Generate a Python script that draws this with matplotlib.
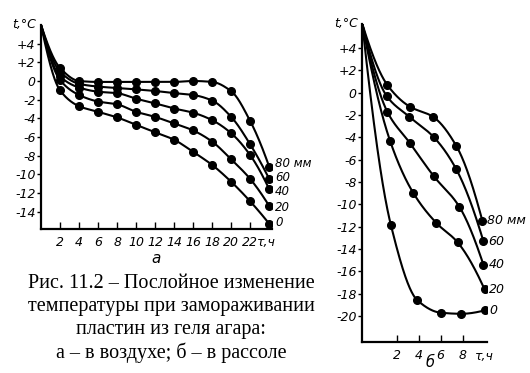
import numpy as np
import matplotlib
matplotlib.use('Agg')
import matplotlib.pyplot as plt

# --- data: left panel (a, in air) ---
air_time = [0, 2, 4, 6, 8, 10, 12, 14, 16, 18, 20, 22, 24]
air_80 = [6, 1.4, 0, -0.1, -0.1, -0.1, -0.1, -0.1, 0, -0.1, -1.1, -4.3, -9.2]
air_60 = [6, 1.0, -0.3, -0.6, -0.75, -0.9, -1.07, -1.3, -1.5, -2.1, -3.85, -6.8, -10.5]
air_40 = [6, 0.5, -0.7, -1.15, -1.3, -1.9, -2.4, -2.95, -3.4, -4.2, -5.6, -7.95, -11.6]
air_20 = [6, 0.1, -1.5, -2.2, -2.5, -3.3, -3.85, -4.55, -5.3, -6.5, -8.4, -10.5, -13.4]
air_0 = [6, -1.0, -2.7, -3.3, -3.9, -4.7, -5.5, -6.3, -7.6, -9.0, -10.8, -12.9, -15.3]
air_series = [air_80, air_60, air_40, air_20, air_0]
air_labels = ["80 мм", "60", "40", "20", "0"]
air_label_shift = [0.4, 0.15, -0.2, -0.2, 0.1]

# --- data: right panel (б, in brine) ---
brine_80_x = [-1.12, 1.15, 3.2, 5.3, 7.45, 9.8]
brine_80 = [6.15, 0.7, -1.25, -2.15, -4.8, -11.45]
brine_60_x = [-1.12, 1.1, 3.15, 5.4, 7.4, 9.9]
brine_60 = [6.15, -0.3, -2.15, -4.0, -6.8, -13.3]
brine_40_x = [-1.12, 1.15, 3.2, 5.4, 7.7, 9.9]
brine_40 = [6.15, -1.7, -4.5, -7.5, -10.2, -15.4]
brine_20_x = [-1.12, 1.4, 3.5, 5.6, 7.55, 10.0]
brine_20 = [6.15, -4.3, -8.95, -11.65, -13.4, -17.6]
brine_0_x = [-1.12, 1.48, 3.9, 6.0, 7.9, 10.0]
brine_0 = [6.15, -11.85, -18.6, -19.7, -19.8, -19.5]
brine_series = [(brine_80_x, brine_80), (brine_60_x, brine_60), (brine_40_x, brine_40),
                (brine_20_x, brine_20), (brine_0_x, brine_0)]
brine_labels = ["80 мм", "60", "40", "20", "0"]

caption = ["Рис. 11.2 – Послойное изменение",
           "температуры при замораживании",
           "пластин из геля агара:",
           "а – в воздухе; б – в рассоле"]

TICK_FONT = ['DejaVu Sans']
FS = 9


def pchip(x, y, n=60):
    # monotone cubic through the points, only for drawing smooth lines
    x = np.asarray(x, float)
    y = np.asarray(y, float)
    h = np.diff(x)
    delta = np.diff(y) / h
    d = np.zeros_like(y)
    for k in range(1, len(x) - 1):
        if delta[k - 1] * delta[k] > 0:
            w1 = 2 * h[k] + h[k - 1]
            w2 = h[k] + 2 * h[k - 1]
            d[k] = (w1 + w2) / (w1 / delta[k - 1] + w2 / delta[k])
    for i0, i1, j in [(0, 1, 0), (-1, -2, -1)]:
        hh0, hh1 = h[i0], h[i1]
        dd0, dd1 = delta[i0], delta[i1]
        de = ((2 * hh0 + hh1) * dd0 - hh0 * dd1) / (hh0 + hh1)
        if np.sign(de) != np.sign(dd0):
            de = 0.0
        elif np.sign(dd0) != np.sign(dd1) and abs(de) > 3 * abs(dd0):
            de = 3 * dd0
        d[j] = de
    xs, ys = [], []
    for k in range(len(x) - 1):
        t = np.linspace(0, 1, n)
        h00 = 2 * t**3 - 3 * t**2 + 1
        h10 = t**3 - 2 * t**2 + t
        h01 = -2 * t**3 + 3 * t**2
        h11 = t**3 - t**2
        xs.append(x[k] + t * h[k])
        ys.append(h00 * y[k] + h10 * h[k] * d[k] + h01 * y[k + 1] + h11 * h[k] * d[k + 1])
    return np.concatenate(xs), np.concatenate(ys)


def style_axes(ax):
    for side in ['top', 'right']:
        ax.spines[side].set_visible(False)
    for side in ['left', 'bottom']:
        ax.spines[side].set_linewidth(1.6)
    ax.tick_params(axis='x', direction='in', length=5, width=1, pad=5)
    ax.tick_params(axis='y', direction='out', length=3, width=1, pad=1)
    for lab in ax.get_xticklabels() + ax.get_yticklabels():
        lab.set_family(TICK_FONT)
        lab.set_style('italic')
        lab.set_fontsize(FS)


def signed(v):
    if v > 0:
        return f"+{v}"
    if v < 0:
        return f"-{abs(v)}"
    return "0"


fig = plt.figure(figsize=(5.3, 3.73), dpi=100)

# --- left panel ---
axL = fig.add_axes([0.0774, 0.385, 0.436, 0.548])
axL.set_xlim(0, 24.3)
axL.set_ylim(-15.9, 6)
for ys, lab, sh in zip(air_series, air_labels, air_label_shift):
    sx, sy = pchip(air_time, ys)
    axL.plot(sx, sy, color='black', lw=1.5)
    axL.plot(air_time[1:], ys[1:], 'o', color='black', ms=5.5)
    axL.text(air_time[-1] + 0.6, ys[-1] + sh, lab, ha='left', va='center',
             family=TICK_FONT, style='italic', fontsize=8.5)
xt = list(range(2, 24, 2))
axL.set_xticks(xt)
axL.set_xticklabels([str(v) for v in xt])
yt = list(range(4, -15, -2))
axL.set_yticks(yt)
axL.set_yticklabels([signed(v) for v in yt])
style_axes(axL)
axL.text(22.75, -0.03, "τ,ч", transform=axL.get_xaxis_transform(), ha='left', va='top',
         family=TICK_FONT, style='italic', fontsize=FS)
axL.text(-0.02, 1.0, "t,°C", transform=axL.transAxes, ha='right', va='center',
         family=TICK_FONT, style='italic', fontsize=FS)
axL.text(0.5, -0.14, "а", transform=axL.transAxes, ha='center', va='center',
         family=TICK_FONT, style='italic', fontsize=11)

# --- right panel ---
axR = fig.add_axes([0.6836, 0.0839, 0.2347, 0.8518])
axR.set_xlim(-1.12, 10.2)
axR.set_ylim(-22.3, 6.15)
for (bx, by), lab in zip(brine_series, brine_labels):
    sx, sy = pchip(bx, by)
    axR.plot(sx, sy, color='black', lw=1.5)
    axR.plot(bx[1:], by[1:], 'o', color='black', ms=5.5)
    axR.text(bx[-1] + 0.45, by[-1], lab, ha='left', va='center',
             family=TICK_FONT, style='italic', fontsize=FS)
axR.set_xticks([2, 4, 6, 8])
axR.set_xticklabels(['2', '4', '6', '8'])
yt = list(range(4, -21, -2))
axR.set_yticks(yt)
axR.set_yticklabels([signed(v) for v in yt])
style_axes(axR)
axR.text(10.0, -0.025, "τ,ч", transform=axR.get_xaxis_transform(), ha='center', va='top',
         family=TICK_FONT, style='italic', fontsize=FS)
axR.text(-0.03, 1.0, "t,°C", transform=axR.transAxes, ha='right', va='center',
         family=TICK_FONT, style='italic', fontsize=FS)
axR.text(5.0, -0.043, "б", transform=axR.get_xaxis_transform(), ha='center', va='top',
         family=TICK_FONT, style='italic', fontsize=10.5)

# --- caption ---
for i, line in enumerate(caption):
    fig.text(0.323, 1 - (283.5 + 23 * i) / 373, line, ha='center', va='center',
             family=['Liberation Serif', 'DejaVu Serif'], fontsize=14.5)

fig.savefig('out.png', dpi=100)
